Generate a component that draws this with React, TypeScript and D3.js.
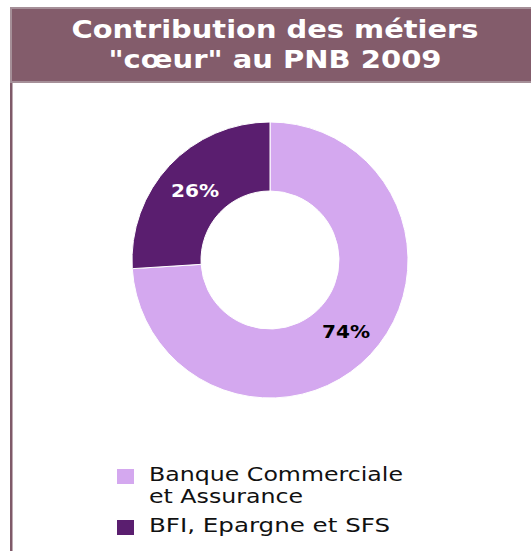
import React from "react";
import * as d3 from "d3";

const categories = ["Banque Commerciale\net Assurance", "BFI, Epargne et SFS"];
const values = [74, 26];
const labels = ["74%", "26%"];
const colors = ["#d4a8ef", "#5a1e6f"];
const labelColors = ["#000000", "#ffffff"];
const titleLines = ["Contribution des métiers", "\"cœur\" au PNB 2009"];

export default function App() {
  const W = 531, H = 551;
  const cx = 270, cy = 260, R = 138, r = 69;
  const pie = d3.pie<number>().sort(null).value((d) => d)(values);
  const arc = d3.arc<d3.PieArcDatum<number>>().innerRadius(r).outerRadius(R);
  const titleLen = [407, 333];
  const legendLen = [[254, 154], [241]];
  const legendY = [481, 532];
  const labelPos = [[346, 338], [195, 197]];
  return (
    <svg width={W} height={H} style={{ position: "absolute", left: 0, top: 0 }}>
      <rect x={0} y={0} width={W} height={H} fill="#ffffff" />
      <rect x={10} y={7} width={W - 10} height={76} fill="#a58f98" />
      <rect x={12} y={9} width={W - 12} height={72} fill="#835c6b" />
      <rect x={10} y={83} width={2.5} height={H - 83} fill="#7f5a69" />
      {titleLines.map((t, i) => (
        <text key={i} x={275} y={38 + i * 30} textAnchor="middle" fill="#ffffff"
          fontFamily="DejaVu Sans" fontWeight="bold" fontSize={25}
          textLength={titleLen[i]} lengthAdjust="spacingAndGlyphs">{t}</text>
      ))}
      <g transform={`translate(${cx},${cy})`}>
        {pie.map((p, i) => (
          <path key={i} d={arc(p) || ""} fill={colors[i]} stroke="#ffffff" strokeWidth={1} />
        ))}
      </g>
      {labels.map((l, i) => (
        <text key={i} x={labelPos[i][0]} y={labelPos[i][1]} textAnchor="middle" fill={labelColors[i]}
          fontFamily="DejaVu Sans" fontWeight="bold" fontSize={18}
          textLength={48} lengthAdjust="spacingAndGlyphs">{l}</text>
      ))}
      {categories.map((c, i) => {
        const lines = c.split("\n");
        const y0 = legendY[i];
        return (
          <g key={i}>
            <rect x={117} y={y0 - 12} width={17} height={15} fill={colors[i]} />
            {lines.map((l, j) => (
              <text key={j} x={149} y={y0 + j * 22} fill="#111111" fontFamily="DejaVu Sans" fontSize={20}
                textLength={legendLen[i][j]} lengthAdjust="spacingAndGlyphs">{l}</text>
            ))}
          </g>
        );
      })}
    </svg>
  );
}
